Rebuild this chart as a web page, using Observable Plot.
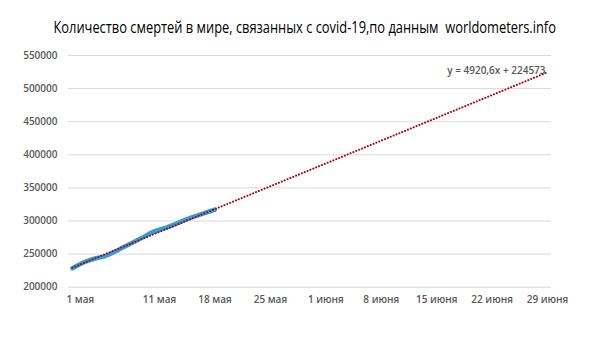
<!DOCTYPE html>
<html>
<head>
<meta charset="utf-8">
<script src="https://cdn.jsdelivr.net/npm/d3@7"></script>
<script src="https://cdn.jsdelivr.net/npm/@observablehq/plot@0.6"></script>
<style>
  html, body { margin: 0; padding: 0; background: #fff; }
  #wrap { width: 610px; height: 342px; overflow: hidden; }
  #title { height: 42px; box-sizing: border-box; padding-top: 17px; text-align: center;
           font-family: "Open Sans", sans-serif; font-size: 15.5px; color: #000; line-height: 20px; white-space: pre; }
  #title span { display: inline-block; transform: scaleX(0.83); transform-origin: center; }
  svg { display: block; }
</style>
</head>
<body>
<div id="wrap">
  <div id="title"><span>Количество смертей в мире, связанных с covid-19,по данным  worldometers.info</span></div>
  <div id="chart"></div>
</div>
<script>
// Day index: 1 = 30 апреля
const days = [1, 2, 3, 4, 5, 6, 7, 8, 9, 10, 11, 12, 13, 14, 15, 16, 17, 18, 19];
const deaths = [228600, 235100, 240100, 243700, 246400, 251600, 257600, 263800, 269800, 276000,
                282700, 286800, 290700, 295400, 300500, 305200, 309300, 313200, 317300];
const tickDays = [2, 12, 19, 26, 33, 40, 47, 54, 61];
const tickLabels = ["1 мая", "11 мая", "18 мая", "25 мая", "1 июня", "8 июня", "15 июня", "22 июня", "29 июня"];
const yTicks = [200000, 250000, 300000, 350000, 400000, 450000, 500000, 550000];
const trendSlope = 4920.6;
const trendIntercept = 224573;
const trendDays = [1, 61];
const equationLabel = "y = 4920,6x + 224573";

const series = days.map((d, i) => ({day: d, value: deaths[i]}));
const trend = trendDays.map(d => ({day: d, value: trendSlope * d + trendIntercept}));
const labelOf = new Map(tickDays.map((d, i) => [d, tickLabels[i]]));

const chart = Plot.plot({
  width: 610,
  height: 300,
  marginTop: 13,
  marginBottom: 55.3,
  marginLeft: 68,
  marginRight: 59,
  style: {fontFamily: "'Open Sans', sans-serif", fontSize: "10px", color: "#595959", background: "#fff"},
  x: {domain: [0.5, 61.5]},
  y: {domain: [200000, 550000]},
  marks: [
    Plot.gridY(yTicks, {stroke: "#d9d9d9", strokeOpacity: 1}),
    Plot.axisY(yTicks, {tickSize: 0, tickPadding: 11, tickFormat: d => String(d), fontWeight: 600, fill: "#595959", label: null}),
    Plot.axisX(tickDays, {tickSize: 0, tickPadding: 9, tickFormat: d => labelOf.get(d), fontWeight: 600, fill: "#595959", label: null}),
    Plot.line(series, {x: "day", y: "value", stroke: "#2E9FDB", strokeWidth: 4.5, strokeLinecap: "round", strokeLinejoin: "round", curve: "monotone-x"}),
    Plot.line(trend, {x: "day", y: "value", stroke: "#B00010", strokeWidth: 2, strokeDasharray: "0.1,3", strokeLinecap: "round"}),
    Plot.text([equationLabel], {x: 61, y: trendSlope * 61 + trendIntercept, text: d => d, textAnchor: "end", dx: -2, dy: -1, fontSize: 10, fontWeight: 600, fill: "#595959"})
  ]
});
document.getElementById("chart").appendChild(chart);
</script>
</body>
</html>
